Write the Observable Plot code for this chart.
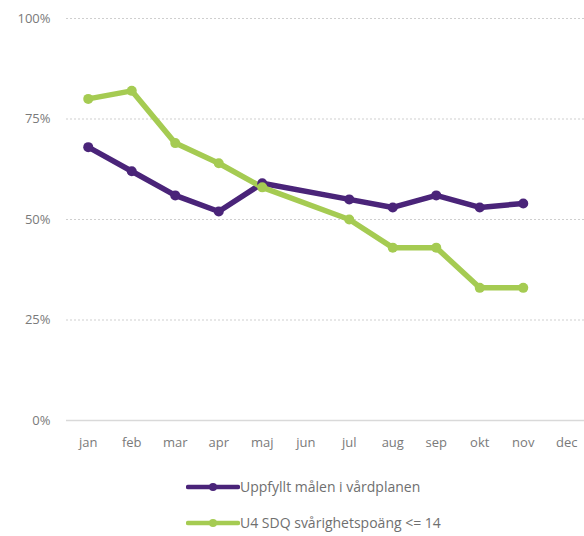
<!DOCTYPE html>
<html>
<head>
<meta charset="utf-8">
<script src="https://cdn.jsdelivr.net/npm/d3@7"></script>
<script src="https://cdn.jsdelivr.net/npm/@observablehq/plot@0.6"></script>
<style>
  html, body { margin: 0; background: #fff; font-family: "Open Sans", sans-serif; overflow: hidden; }
  #chart { width: 584px; }
  .legend { position: relative; height: 76px; }
  .legend .item { position: absolute; left: 186px; display: flex; align-items: center; font-size: 14px; color: #6f6f6f; }
</style>
</head>
<body>
<div id="chart"></div>
<script>
const months = ["jan","feb","mar","apr","maj","jun","jul","aug","sep","okt","nov","dec"];
const seriesNames = ["Uppfyllt målen i vårdplanen", "U4 SDQ svårighetspoäng <= 14"];
const seriesColors = ["#4a2479", "#a5cb52"];
const uppfyllt = [68, 62, 56, 52, 59, null, 55, 53, 56, 53, 54, null];
const sdq = [80, 82, 69, 64, 58, null, 50, 43, 43, 33, 33, null];
const yTicks = [0, 25, 50, 75, 100];

const rows = [];
[uppfyllt, sdq].forEach((vals, si) => {
  vals.forEach((v, i) => { if (v != null) rows.push({month: months[i], value: v, series: seriesNames[si]}); });
});

const plot = Plot.plot({
  width: 584,
  height: 460,
  marginLeft: 66,
  marginRight: -4,
  marginTop: 18,
  marginBottom: 40,
  style: {fontFamily: "Open Sans, sans-serif", fontSize: "13px", color: "#7a7a7a"},
  x: {type: "point", domain: months, padding: 0.5, round: false, label: null, tickSize: 0, tickPadding: 17},
  y: {domain: [0, 100], ticks: yTicks, tickFormat: d => d + "%", label: null, tickSize: 0, tickPadding: 16},
  color: {domain: seriesNames, range: seriesColors},
  marks: [
    Plot.ruleY(yTicks.filter(d => d > 0), {stroke: "#cfcfcf", strokeDasharray: "2,2", strokeWidth: 1}),
    Plot.ruleY([0], {stroke: "#d9d9d9", strokeWidth: 1.5}),
    Plot.line(rows, {x: "month", y: "value", z: "series", stroke: "series", strokeWidth: 5.5, strokeLinejoin: "round", strokeLinecap: "round"}),
    Plot.dot(rows, {x: "month", y: "value", fill: "series", r: 5, stroke: null})
  ]
});
document.getElementById("chart").appendChild(plot);

const legend = document.createElement("div");
legend.className = "legend";
seriesNames.forEach((name, i) => {
  const item = document.createElement("div");
  item.className = "item";
  item.style.top = (17 + i * 36) + "px";
  item.innerHTML = `<svg width="54" height="12"><line x1="2" y1="6" x2="52" y2="6" stroke="${seriesColors[i]}" stroke-width="4.5" stroke-linecap="round"/><circle cx="27" cy="6" r="4" fill="${seriesColors[i]}"/></svg><span style="margin-left:0px">${name}</span>`;
  legend.appendChild(item);
});
document.getElementById("chart").appendChild(legend);
</script>
</body>
</html>
